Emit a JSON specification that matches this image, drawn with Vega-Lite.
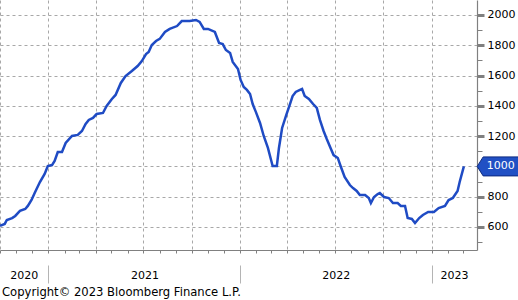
{
  "$schema": "https://vega.github.io/schema/vega-lite/v6.json",
  "width": 477,
  "height": 250,
  "autosize": {"type": "none"},
  "padding": {"left": 0, "top": 0, "right": 41, "bottom": 50},
  "background": "white",
  "title": {
    "text": "Copyright© 2023 Bloomberg Finance L.P.",
    "orient": "bottom",
    "anchor": "start",
    "frame": "group",
    "font": "DejaVu Sans",
    "fontSize": 11.6,
    "fontWeight": "normal",
    "color": "black",
    "offset": 3,
    "dx": 2
  },
  "config": {
    "view": {"stroke": null},
    "axis": {"labelFont": "DejaVu Sans", "labelFontSize": 11, "labelColor": "black", "title": null}
  },
  "data": {
    "values": [
      {"date": "2020-10-01", "value": 607},
      {"date": "2020-10-10", "value": 620},
      {"date": "2020-10-14", "value": 646},
      {"date": "2020-10-24", "value": 659},
      {"date": "2020-10-30", "value": 673},
      {"date": "2020-11-08", "value": 706},
      {"date": "2020-11-18", "value": 719},
      {"date": "2020-11-23", "value": 739},
      {"date": "2020-11-30", "value": 778},
      {"date": "2020-12-06", "value": 824},
      {"date": "2020-12-16", "value": 897},
      {"date": "2020-12-25", "value": 950},
      {"date": "2020-12-31", "value": 1003},
      {"date": "2021-01-08", "value": 1009},
      {"date": "2021-01-13", "value": 1036},
      {"date": "2021-01-19", "value": 1095},
      {"date": "2021-01-27", "value": 1095},
      {"date": "2021-02-03", "value": 1155},
      {"date": "2021-02-15", "value": 1201},
      {"date": "2021-02-26", "value": 1208},
      {"date": "2021-03-06", "value": 1234},
      {"date": "2021-03-13", "value": 1280},
      {"date": "2021-03-19", "value": 1307},
      {"date": "2021-03-27", "value": 1320},
      {"date": "2021-04-03", "value": 1346},
      {"date": "2021-04-15", "value": 1353},
      {"date": "2021-04-22", "value": 1399},
      {"date": "2021-05-02", "value": 1445},
      {"date": "2021-05-09", "value": 1472},
      {"date": "2021-05-19", "value": 1551},
      {"date": "2021-05-28", "value": 1597},
      {"date": "2021-06-09", "value": 1630},
      {"date": "2021-06-20", "value": 1663},
      {"date": "2021-06-28", "value": 1696},
      {"date": "2021-07-06", "value": 1742},
      {"date": "2021-07-11", "value": 1756},
      {"date": "2021-07-17", "value": 1802},
      {"date": "2021-07-25", "value": 1828},
      {"date": "2021-08-01", "value": 1842},
      {"date": "2021-08-11", "value": 1888},
      {"date": "2021-08-20", "value": 1908},
      {"date": "2021-09-03", "value": 1927},
      {"date": "2021-09-12", "value": 1960},
      {"date": "2021-09-27", "value": 1960},
      {"date": "2021-10-09", "value": 1967},
      {"date": "2021-10-16", "value": 1954},
      {"date": "2021-10-24", "value": 1908},
      {"date": "2021-11-01", "value": 1908},
      {"date": "2021-11-14", "value": 1888},
      {"date": "2021-11-22", "value": 1815},
      {"date": "2021-11-29", "value": 1808},
      {"date": "2021-12-05", "value": 1769},
      {"date": "2021-12-13", "value": 1749},
      {"date": "2021-12-18", "value": 1690},
      {"date": "2021-12-28", "value": 1643},
      {"date": "2022-01-02", "value": 1571},
      {"date": "2022-01-08", "value": 1525},
      {"date": "2022-01-14", "value": 1505},
      {"date": "2022-01-20", "value": 1478},
      {"date": "2022-01-25", "value": 1412},
      {"date": "2022-01-31", "value": 1360},
      {"date": "2022-02-08", "value": 1287},
      {"date": "2022-02-15", "value": 1201},
      {"date": "2022-02-23", "value": 1122},
      {"date": "2022-03-01", "value": 1042},
      {"date": "2022-03-04", "value": 1003},
      {"date": "2022-03-12", "value": 1003},
      {"date": "2022-03-16", "value": 1122},
      {"date": "2022-03-22", "value": 1254},
      {"date": "2022-03-30", "value": 1340},
      {"date": "2022-04-06", "value": 1412},
      {"date": "2022-04-11", "value": 1465},
      {"date": "2022-04-17", "value": 1492},
      {"date": "2022-04-25", "value": 1505},
      {"date": "2022-04-29", "value": 1511},
      {"date": "2022-05-04", "value": 1465},
      {"date": "2022-05-12", "value": 1445},
      {"date": "2022-05-20", "value": 1412},
      {"date": "2022-05-27", "value": 1386},
      {"date": "2022-06-02", "value": 1307},
      {"date": "2022-06-09", "value": 1234},
      {"date": "2022-06-15", "value": 1181},
      {"date": "2022-06-23", "value": 1115},
      {"date": "2022-06-28", "value": 1075},
      {"date": "2022-07-06", "value": 1056},
      {"date": "2022-07-12", "value": 996},
      {"date": "2022-07-19", "value": 930},
      {"date": "2022-07-29", "value": 877},
      {"date": "2022-08-04", "value": 857},
      {"date": "2022-08-11", "value": 838},
      {"date": "2022-08-17", "value": 811},
      {"date": "2022-08-27", "value": 811},
      {"date": "2022-09-03", "value": 791},
      {"date": "2022-09-07", "value": 758},
      {"date": "2022-09-13", "value": 798},
      {"date": "2022-09-20", "value": 818},
      {"date": "2022-09-24", "value": 824},
      {"date": "2022-10-02", "value": 798},
      {"date": "2022-10-11", "value": 791},
      {"date": "2022-10-19", "value": 758},
      {"date": "2022-10-28", "value": 758},
      {"date": "2022-11-03", "value": 739},
      {"date": "2022-11-11", "value": 739},
      {"date": "2022-11-16", "value": 659},
      {"date": "2022-11-24", "value": 653},
      {"date": "2022-11-30", "value": 626},
      {"date": "2022-12-08", "value": 659},
      {"date": "2022-12-15", "value": 679},
      {"date": "2022-12-25", "value": 699},
      {"date": "2023-01-05", "value": 699},
      {"date": "2023-01-14", "value": 725},
      {"date": "2023-01-26", "value": 739},
      {"date": "2023-02-02", "value": 778},
      {"date": "2023-02-10", "value": 791},
      {"date": "2023-02-19", "value": 838},
      {"date": "2023-02-23", "value": 897},
      {"date": "2023-03-03", "value": 1000}
    ]
  },
  "layer": [
    {
      "mark": {"type": "line", "color": "#1f4bc4", "strokeWidth": 2.5},
      "encoding": {
        "x": {
          "field": "date", "type": "temporal",
          "scale": {"domain": [{"year": 2020, "month": 10, "date": 1}, {"year": 2023, "month": 3, "date": 28}]},
          "axis": {
            "orient": "bottom",
            "values": [
              {"year": 2020, "month": 10, "date": 1},
              {"year": 2021, "month": 1, "date": 1},
              {"year": 2021, "month": 4, "date": 1},
              {"year": 2021, "month": 7, "date": 1},
              {"year": 2021, "month": 10, "date": 1},
              {"year": 2022, "month": 1, "date": 1},
              {"year": 2022, "month": 4, "date": 1},
              {"year": 2022, "month": 7, "date": 1},
              {"year": 2022, "month": 10, "date": 1},
              {"year": 2023, "month": 1, "date": 1}
            ],
            "grid": true, "gridColor": "#a8a8a8", "gridDash": [3, 3], "gridWidth": 1,
            "ticks": false, "labels": false,
            "domain": true, "domainColor": "#808080", "domainWidth": 1.2,
            "title": null
          }
        },
        "y": {
          "field": "value", "type": "quantitative",
          "scale": {"domain": [448, 2099], "zero": false, "nice": false},
          "axis": {
            "orient": "right",
            "values": [600, 800, 1000, 1200, 1400, 1600, 1800, 2000],
            "labelExpr": "datum.value === 1000 ? '' : format(datum.value, 'd')",
            "grid": true, "gridColor": "#a8a8a8", "gridDash": [3, 3], "gridWidth": 1,
            "tickSize": 7, "tickWidth": 3, "tickColor": "#808080",
            "domainColor": "#808080", "domainWidth": 1.2,
            "labelPadding": 3,
            "title": null
          }
        }
      }
    },
    {
      "mark": {"type": "line", "opacity": 0},
      "encoding": {
        "x": {
          "field": "date", "type": "temporal",
          "axis": {
            "orient": "bottom", "tickCount": {"interval": "month", "step": 1},
            "ticks": true, "tickSize": 3, "tickColor": "#808080",
            "labels": false, "domain": false, "grid": false, "title": null
          }
        },
        "y": {
          "field": "value", "type": "quantitative",
          "axis": {
            "orient": "right",
            "values": [500, 700, 900, 1100, 1300, 1500, 1700, 1900],
            "tickSize": 5, "tickColor": "#808080",
            "labels": false, "domain": false, "grid": false, "title": null
          }
        }
      }
    },
    {
      "mark": {"type": "line", "opacity": 0},
      "encoding": {
        "x": {
          "field": "date", "type": "temporal",
          "axis": {
            "orient": "bottom",
            "values": [
              {"year": 2021, "month": 1, "date": 1},
              {"year": 2022, "month": 1, "date": 1},
              {"year": 2023, "month": 1, "date": 1}
            ],
            "offset": 15, "tickSize": 18, "tickColor": "#b4b4b4", "tickWidth": 1,
            "labels": false, "domain": false, "grid": false, "title": null
          }
        },
        "y": {"field": "value", "type": "quantitative", "axis": null}
      }
    },
    {
      "mark": {"type": "line", "opacity": 0},
      "encoding": {
        "x": {
          "field": "date", "type": "temporal",
          "axis": {
            "orient": "bottom",
            "values": [
              {"year": 2020, "month": 11, "date": 15},
              {"year": 2021, "month": 7, "date": 3},
              {"year": 2022, "month": 7, "date": 2},
              {"year": 2023, "month": 2, "date": 12}
            ],
            "format": "%Y",
            "ticks": false, "tickSize": 0, "domain": false, "grid": false,
            "labelBaseline": "alphabetic", "labelPadding": 28, "labelAlign": "center",
            "labelFlush": false, "labelOverlap": false, "labelBound": false,
            "title": null
          }
        },
        "y": {"field": "value", "type": "quantitative", "axis": null}
      }
    },
    {
      "transform": [
        {"joinaggregate": [{"op": "max", "field": "date", "as": "maxd"}]},
        {"filter": "time(datum.date) === time(datum.maxd)"}
      ],
      "mark": {
        "type": "point",
        "shape": "M2.66,0L3.86,-1.9L11.4,-1.9L11.4,1.9L3.86,1.9Z",
        "size": 100, "filled": true, "fill": "#2150c4", "stroke": "#0d2a80", "strokeWidth": 1, "opacity": 1
      },
      "encoding": {
        "x": {"field": "date", "type": "temporal", "axis": null},
        "y": {"field": "value", "type": "quantitative", "axis": null}
      }
    },
    {
      "transform": [
        {"joinaggregate": [{"op": "max", "field": "date", "as": "maxd"}]},
        {"filter": "time(datum.date) === time(datum.maxd)"}
      ],
      "mark": {
        "type": "text", "dx": 37, "color": "white", "font": "DejaVu Sans", "fontSize": 11,
        "align": "center", "baseline": "middle"
      },
      "encoding": {
        "x": {"field": "date", "type": "temporal", "axis": null},
        "y": {"field": "value", "type": "quantitative", "axis": null},
        "text": {"field": "value", "type": "quantitative", "format": "d"}
      }
    }
  ],
  "resolve": {"axis": {"x": "independent", "y": "independent"}}
}
